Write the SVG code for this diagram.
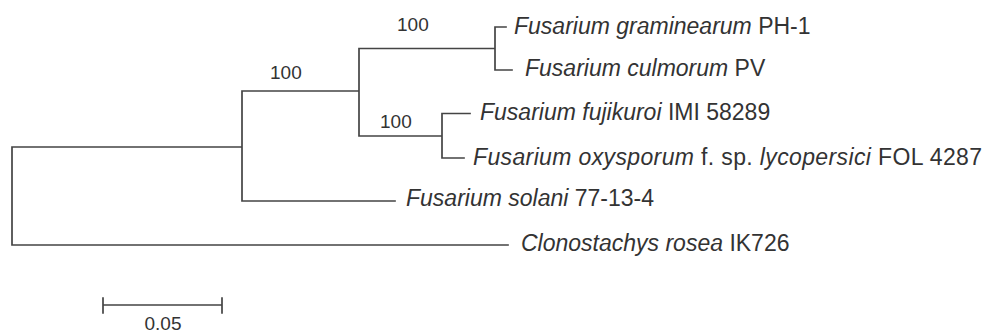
<svg xmlns="http://www.w3.org/2000/svg" width="987" height="335" viewBox="0 0 987 335">
<style>
.br{fill:none;stroke:#444;stroke-width:1.7;stroke-linecap:square}
.lab{font-family:"Liberation Sans",Arial,sans-serif;font-size:23px;fill:#333}
.sup{font-family:"Liberation Sans",Arial,sans-serif;font-size:19px;fill:#333}
.it{font-style:italic}
</style>
<rect width="987" height="335" fill="#fff"/>
<g id="connectors">
<path class="br" d="M12,147 V245 M12,147 H242 M12,245 H508 M242,91 V201 M242,201 H395 M242,91 H359 M359,48.5 V136 M359,48.5 H495 M495,27 V70 M495,27 H506 M495,70 H512 M359,136 H442 M442,113.5 V158 M442,113.5 H470 M442,158 H464"/>
</g>
<g id="support">
<text class="sup" x="397" y="31">100</text>
<text class="sup" x="270" y="79">100</text>
<text class="sup" x="380" y="128">100</text>
</g>
<g id="n-graminearum"><text class="lab" x="514" y="33.5"><tspan class="it">Fusarium graminearum</tspan> PH-1</text></g>
<g id="n-culmorum"><text class="lab" x="525" y="76"><tspan class="it">Fusarium culmorum</tspan> PV</text></g>
<g id="n-fujikuroi"><text class="lab" x="480" y="120"><tspan class="it">Fusarium fujikuroi</tspan> IMI 58289</text></g>
<g id="n-oxysporum"><text class="lab" x="473" y="165" textLength="509" lengthAdjust="spacing"><tspan class="it">Fusarium oxysporum</tspan> f. sp. <tspan class="it">lycopersici</tspan> FOL 4287</text></g>
<g id="n-solani"><text class="lab" x="406" y="206"><tspan class="it">Fusarium solani</tspan> 77-13-4</text></g>
<g id="n-rosea"><text class="lab" x="521" y="251"><tspan class="it">Clonostachys rosea</tspan> IK726</text></g>
<g id="scale">
<path class="br" d="M103,305 H222 M103,298 V313 M222,298 V313"/>
<text class="sup" x="163" y="330" text-anchor="middle">0.05</text>
</g>
</svg>
